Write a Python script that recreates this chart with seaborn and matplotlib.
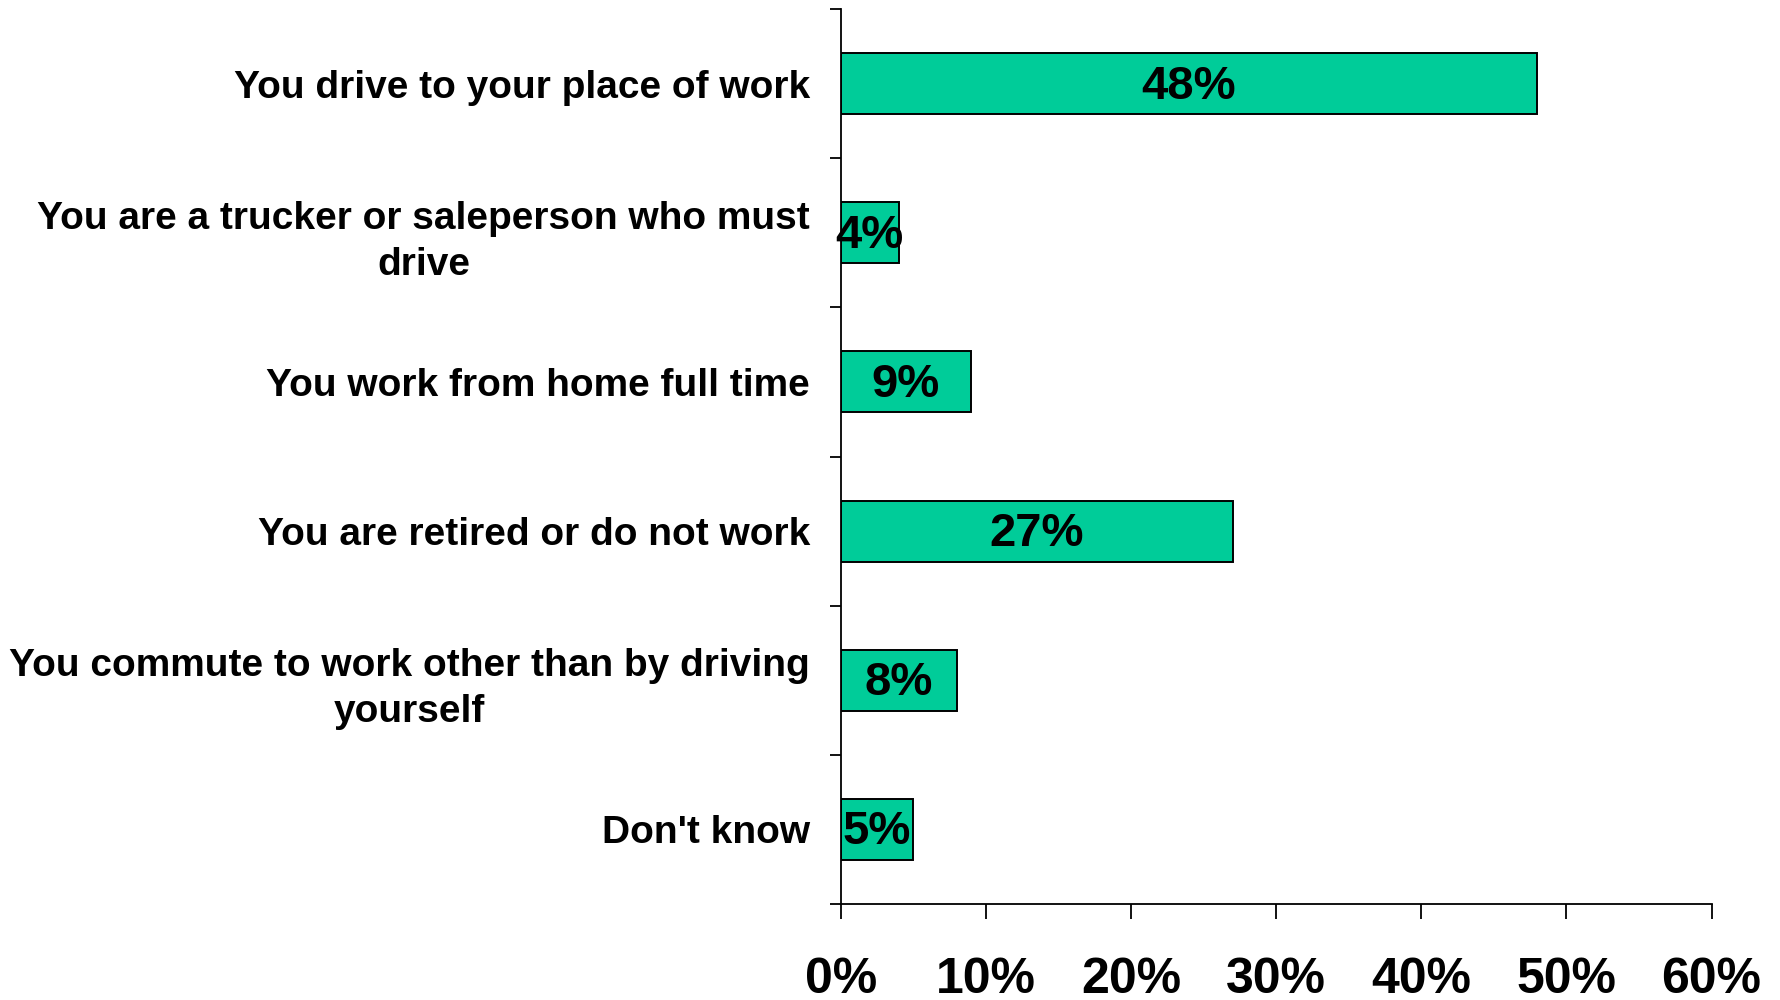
import matplotlib
matplotlib.use("Agg")
import matplotlib.pyplot as plt
import seaborn as sns
import pandas as pd
import numpy as np

categories = [
    "You drive to your place of work",
    "You are a trucker or saleperson who must\ndrive",
    "You work from home full time",
    "You are retired or do not work",
    "You commute to work other than by driving\nyourself",
    "Don't know",
]
values = [48, 4, 9, 27, 8, 5]
x_ticks = [0, 10, 20, 30, 40, 50, 60]
x_tick_labels = ["0%", "10%", "20%", "30%", "40%", "50%", "60%"]

sns.set_theme(style="white")
plt.rcParams["font.family"] = ["Liberation Sans", "DejaVu Sans"]
plt.rcParams["font.weight"] = "bold"
plt.rcParams["text.color"] = "black"
plt.rcParams["xtick.color"] = "black"
plt.rcParams["ytick.color"] = "black"

df = pd.DataFrame({"category": categories, "value": values})

fig = plt.figure(figsize=(17.81, 10), dpi=100)
ax = fig.add_axes([0.472, 0.096, 0.489, 0.895])

sns.barplot(data=df, x="value", y="category", order=categories,
            color="#00CC99", saturation=1, width=0.41,
            edgecolor="black", linewidth=1.4, ax=ax, orient="h")

# value labels centred inside each bar
for i, v in enumerate(values):
    ax.text(v / 2, i + 0.02, f"{v}%", ha="center", va="center",
            fontsize=34, fontweight="bold", color="black")

ax.set_xlim(0, 60)
ax.set_ylim(5.5, -0.5)
ax.set_xlabel("")
ax.set_ylabel("")

ax.set_xticks(x_ticks)
ax.set_xticklabels(x_tick_labels, fontsize=36, fontweight="bold", color="black")
ax.tick_params(axis="x", direction="out", length=11, width=1.3,
               color="black", pad=27, bottom=True)

# category labels at bar centres, tick marks at category boundaries
ax.set_yticks(range(len(categories)))
ax.set_yticklabels(categories, fontsize=28, fontweight="bold", color="black",
                   multialignment="center", linespacing=1.35)
ax.tick_params(axis="y", which="major", length=0, pad=22)
ax.set_yticks(np.arange(-0.5, len(categories), 1.0), minor=True)
ax.tick_params(axis="y", which="minor", direction="out", length=8,
               width=1.3, color="black", left=True)

for side in ["top", "right"]:
    ax.spines[side].set_visible(False)
for side in ["left", "bottom"]:
    ax.spines[side].set_color("black")
    ax.spines[side].set_linewidth(1.3)

fig.savefig("out.png", dpi=100, facecolor="white")
